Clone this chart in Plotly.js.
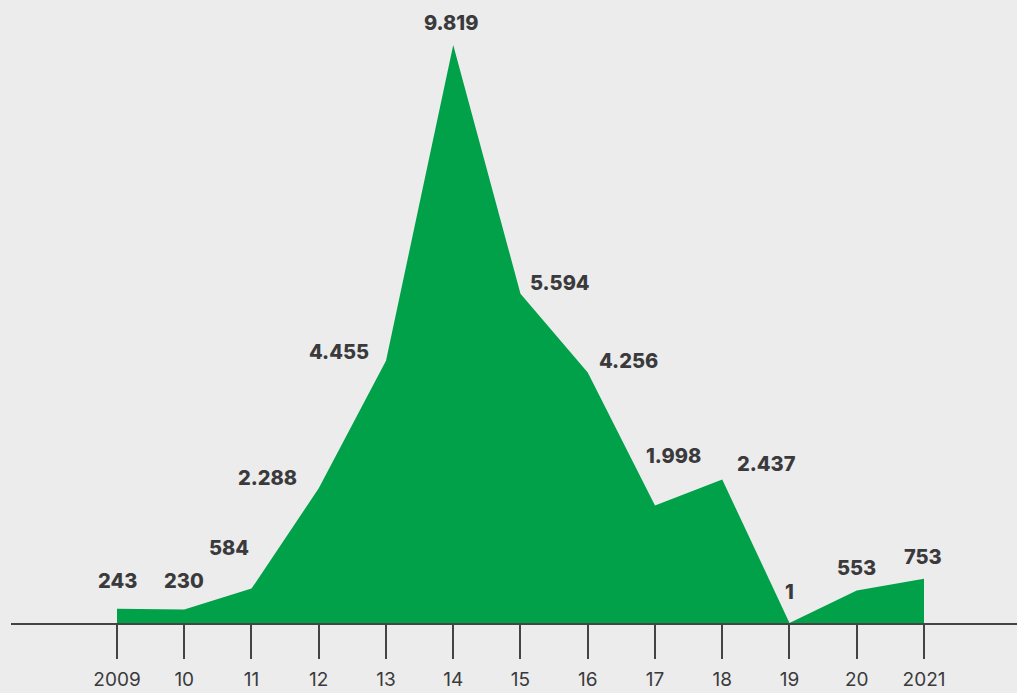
<!DOCTYPE html>
<html>
<head>
<meta charset="utf-8">
<script src="https://cdn.plot.ly/plotly-3.0.1.min.js"></script>
<style>
html,body{margin:0;padding:0;background:#ececec;}
#chart{width:1017px;height:693px;}
</style>
</head>
<body>
<div id="chart"></div>
<script>
// Data
var years = ["2009","10","11","12","13","14","15","16","17","18","19","20","2021"];
var values = [243, 230, 584, 2288, 4455, 9819, 5594, 4256, 1998, 2437, 1, 553, 753];
var valueLabels = ["243","230","584","2.288","4.455","9.819","5.594","4.256","1.998","2.437","1","553","753"];

// Label placement (pixel offsets from each point), styling only
var labelShiftX = [1, 0, -22, -51, -47, -2, 40, 41, 19, 44, 0, 0, -1];
var labelShiftY = [28, 28, 41, 10, 9, 22, 11, 11, 49, 16, 31, 22, 22];

var idx = years.map(function(_, i){ return i; });

var trace = {
  x: idx,
  y: values,
  type: 'scatter',
  mode: 'lines',
  fill: 'tozeroy',
  fillcolor: '#00a149',
  line: {color: '#00a149', width: 0},
  hoverinfo: 'skip'
};

var annotations = idx.map(function(i){
  return {
    x: i, y: values[i],
    xref: 'x', yref: 'y',
    text: valueLabels[i],
    showarrow: false,
    xshift: labelShiftX[i],
    yshift: labelShiftY[i],
    font: {family: 'Inter, "Open Sans", sans-serif', size: 20, color: '#3a3a3c', weight: 800}
  };
});

var layout = {
  width: 1017, height: 693,
  margin: {l: 11, r: 0, t: 0, b: 70, pad: 0},
  paper_bgcolor: '#ececec',
  plot_bgcolor: '#ececec',
  showlegend: false,
  xaxis: {
    range: [-1.576, 13.383],
    tickvals: idx,
    ticktext: years,
    showgrid: false,
    zeroline: false,
    showline: true,
    linecolor: '#444446',
    linewidth: 2,
    ticks: 'outside',
    ticklen: 34,
    tickwidth: 2,
    tickcolor: '#444446',
    ticklabelstandoff: 4,
    tickfont: {family: 'Inter, "Open Sans", sans-serif', size: 19, color: '#3a3a3c'},
    fixedrange: true
  },
  yaxis: {
    range: [0, 10583],
    visible: false,
    showgrid: false,
    zeroline: false,
    fixedrange: true
  },
  annotations: annotations
};

Plotly.newPlot('chart', [trace], layout, {displayModeBar: false, staticPlot: true});
</script>
</body>
</html>
